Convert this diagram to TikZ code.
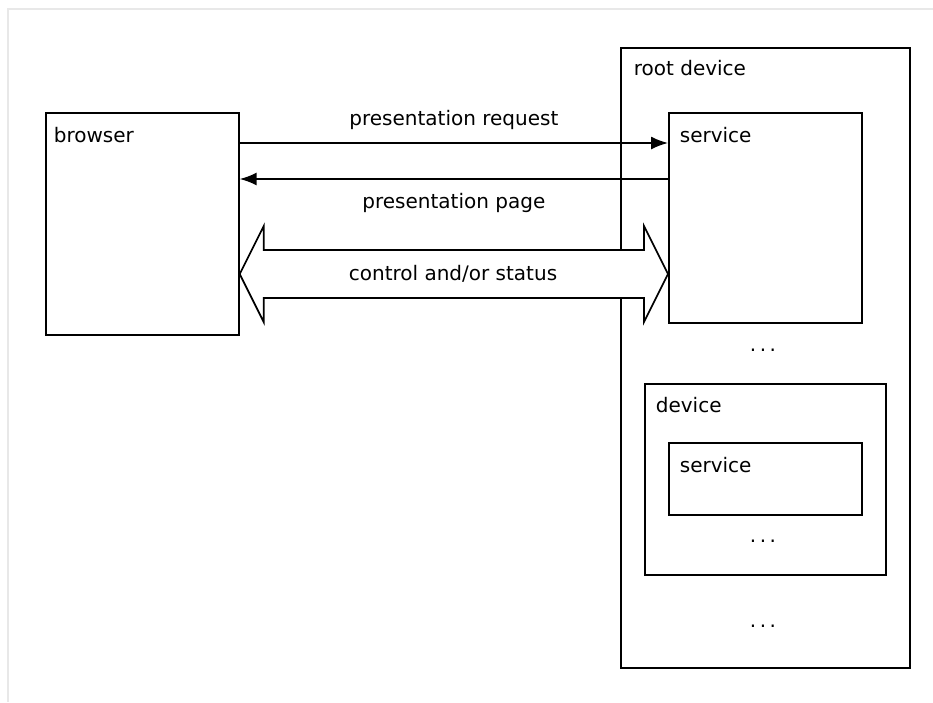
\documentclass[tikz,border=0pt]{standalone}
\usepackage{fontspec}
\setmainfont{DejaVu Sans}
\usetikzlibrary{arrows.meta, calc}

\begin{document}
\begin{tikzpicture}[x=1pt, y=-1pt, line width=1.7pt,
  font=\fontsize{20}{24}\selectfont]

\tikzset{unit/.style = {draw, rectangle, anchor=north west, inner sep=0pt}}
\tikzset{title/.style = {anchor=base west, inner sep=0pt}}
\tikzset{msg/.style = {-{Latex[length=17pt, width=13pt]}}}
\tikzset{dblarrow/.style = {draw, fill=white, line join=miter}}
\tikzset{dots/.style = {inner sep=0pt}}

\useasboundingbox (0,0) rectangle (933,702);
\draw[line width=2pt, black!9] (8,702) -- (8,9) -- (933,9);

% boxes
\node[unit, minimum width=193pt, minimum height=222pt] (browser) at (45,112) {};
\node[unit, minimum width=289pt, minimum height=620pt] (rootdev) at (620,47) {};
\node[unit, minimum width=193pt, minimum height=210pt] (service1) at (668,112) {};
\node[unit, minimum width=241pt, minimum height=191pt] (device) at (644,383) {};
\node[unit, minimum width=193pt, minimum height=72pt] (service2) at (668,442) {};

% titles
\node[title] at ($(browser.north west)+(8,30)$) {browser};
\node[title] at ($(rootdev.north west)+(13,28)$) {root device};
\node[title] at ($(service1.north west)+(11,30)$) {service};
\node[title] at ($(device.north west)+(11,29)$) {device};
\node[title] at ($(service2.north west)+(11,30)$) {service};

\node[dots] (more1) at (763,350) {.\kern3.5pt.\kern3.5pt.};
\node[dots] (more2) at (763,541) {.\kern3.5pt.\kern3.5pt.};
\node[dots] (more3) at (763,626) {.\kern3.5pt.\kern3.5pt.};

% messages
\draw[msg] ([yshift=-31pt]browser.north east) -- ([yshift=-31pt]service1.north west)
  node[midway, anchor=base, yshift=18pt] {presentation request};
\draw[msg] ([yshift=-67pt]service1.north west) -- ([yshift=-67pt]browser.north east)
  node[midway, anchor=base, yshift=-29pt] {presentation page};

% control and/or status
\coordinate (ctrlmid) at (453,274);
\path[dblarrow] (browser.east |- ctrlmid) -- ++(24,-48) -- ++(0,24)
  -- ($(service1.west |- ctrlmid)+(-24,-24)$) -- ++(0,-24)
  -- (service1.west |- ctrlmid) -- ++(-24,48) -- ++(0,-24)
  -- ($(browser.east |- ctrlmid)+(24,24)$) -- ++(0,24) -- cycle;
\node[anchor=base, yshift=-6pt] (ctrl) at (ctrlmid) {control and/or status};

\end{tikzpicture}
\end{document}
